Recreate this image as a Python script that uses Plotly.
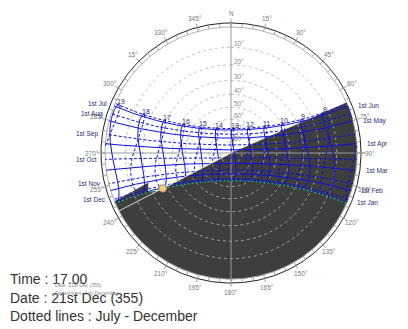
import numpy as np
import plotly.graph_objects as go

# ---------------- data ----------------
LATITUDE = 1.35          # deg N
LONGITUDE = 103.8        # deg E
TZ_MERIDIAN = 120.0      # deg E (UTC+8)

PATH_DAYS = [1, 32, 60, 91, 121, 152, 182, 213, 244, 274, 305, 335]
PATH_LABELS = ["1st Jan", "1st Feb", "1st Mar", "1st Apr", "1st May", "1st Jun",
               "1st Jul", "1st Aug", "1st Sep", "1st Oct", "1st Nov", "1st Dec"]
HOURS = [7, 8, 9, 10, 11, 12, 13, 14, 15, 16, 17, 18, 19]
LABEL_DAY = 172
CURRENT_DAY = 355
CURRENT_TIME = 17.0

AZ_TICKS = [0, 15, 30, 45, 60, 75, 90, 105, 120, 135, 150, 165,
            180, 195, 210, 225, 240, 255, 270, 285, 300, 315, 330, 345]
AZ_TICK_LABELS = ["N", "15°", "30°", "45°", "60°", "75°", "90°", "105°", "120°", "135°",
                  "150°", "165°", "180°", "195°", "210°", "225°", "240°", "255°", "270°",
                  "285°", "300°", "15°", "330°", "345°"]
ALT_RINGS = [10, 20, 30, 40, 50, 60, 70, 80]
ALT_LABELS = ["10°", "20°", "30°", "40°", "50°", "60°", "70°", "80°"]

SHADE_AZ = [66.5, 75.0, 242.0, 244.8, 250.1, 247.4]
SHADE_ALT = [0.0, 88.0, 24.8, 17.9, 20.0, 0.0]

TEXT_LINES = ["Time : 17.00", "Date : 21st Dec (355)", "Dotted lines : July - December"]
SMALL_LINES = ["Date: 21st Dec (355)", "Dotted lines: July-December"]

# ---------------- geometry helpers ----------------
LAT = np.radians(LATITUDE)
PX = 126.0  # pixels per unit radius (horizon)
W, H = 400, 321
CX, CY = 223.0, 145.0


def decl(d):
    b = 2 * np.pi * (np.asarray(d, float) - 1) / 365.0
    return (0.006918 - 0.399912 * np.cos(b) + 0.070257 * np.sin(b)
            - 0.006758 * np.cos(2 * b) + 0.000907 * np.sin(2 * b)
            - 0.002697 * np.cos(3 * b) + 0.00148 * np.sin(3 * b))


def eot(d):
    b = 2 * np.pi * (np.asarray(d, float) - 1) / 365.0
    return 229.18 * (0.000075 + 0.001868 * np.cos(b) - 0.032077 * np.sin(b)
                     - 0.014615 * np.cos(2 * b) - 0.040849 * np.sin(2 * b))


def hour_angle(day, clock):
    solar = clock + (LONGITUDE - TZ_MERIDIAN) / 15.0 + eot(day) / 60.0
    return np.radians(15.0 * (solar - 12.0))


def sky_xy(dec, h):
    e = -np.cos(dec) * np.sin(h)
    n = np.cos(LAT) * np.sin(dec) - np.sin(LAT) * np.cos(dec) * np.cos(h)
    u = np.sin(LAT) * np.sin(dec) + np.cos(LAT) * np.cos(dec) * np.cos(h)
    return e / (1 + u), n / (1 + u), u


def proj(az, alt):
    az = np.radians(np.asarray(az, float))
    r = np.tan(np.radians(90.0 - np.asarray(alt, float)) / 2.0)
    return r * np.sin(az), r * np.cos(az)


def circle(r, a0=0, a1=360, n=361):
    a = np.radians(np.linspace(a0, a1, n))
    return r * np.sin(a), r * np.cos(a)


fig = go.Figure()
BLUE = "#1010d8"
GRAY = "#9a9a9a"


def line(x, y, color, width=1.0, dash="solid"):
    fig.add_trace(go.Scatter(x=list(x), y=list(y), mode="lines",
                             line=dict(color=color, width=width, dash=dash),
                             hoverinfo="skip", showlegend=False))


# ---------------- shading mask ----------------
sx, sy = proj(SHADE_AZ, SHADE_ALT)
ax_, ay_ = circle(1.0, SHADE_AZ[-1], SHADE_AZ[0], 200)
fig.add_trace(go.Scatter(x=list(sx) + list(ax_), y=list(sy) + list(ay_), mode="lines",
                         fill="toself", fillcolor="#3e3e3e",
                         line=dict(color="#3e3e3e", width=0.5),
                         hoverinfo="skip", showlegend=False))

# ---------------- frame ----------------
for alt in ALT_RINGS:
    r = np.tan(np.radians(90 - alt) / 2)
    cx, cy = circle(r)
    line(cx, cy, "#b0b0b0", 0.8, "3px,3px")

cx, cy = circle(1.0)
line(cx, cy, "#a0a0a0", 0.8)
cx, cy = circle(1.032)
line(cx, cy, "#222222", 1.0)

tx, ty = [], []
for a in range(0, 360, 5):
    r1 = 1.062 if a % 15 == 0 else 1.032
    x0, y0 = np.sin(np.radians(a)), np.cos(np.radians(a))
    tx += [x0 * 1.0, x0 * r1, None]
    ty += [y0 * 1.0, y0 * r1, None]
line(tx, ty, "#8a8a8a", 0.8)

line([0, 0], [-1.032, 1.032], GRAY, 1.0)
line([-1.032, 1.062], [0, 0], GRAY, 1.0)

# ---------------- sun paths ----------------
path_ends = []
for i, d in enumerate(PATH_DAYS):
    dec = decl(d)
    h0 = np.arccos(-np.tan(LAT) * np.tan(dec))
    h = np.linspace(-h0, h0, 241)
    x, y, _ = sky_xy(dec, h)
    line(x, y, BLUE, 1.0, "solid" if i < 6 else "3px,2px")
    path_ends.append((x[0], y[0], x[-1], y[-1]))

# hour lines (analemmas)
days = np.arange(1, 366)
for hr in HOURS:
    dec = decl(days)
    h = hour_angle(days, hr)
    x, y, u = sky_xy(dec, h)
    x = np.where(u >= 0, x, np.nan)
    y = np.where(u >= 0, y, np.nan)
    xs = [None if np.isnan(v) else v for v in x]
    ys = [None if np.isnan(v) else v for v in y]
    line(xs[:182], ys[:182], BLUE, 1.0)
    line(xs[181:], ys[181:], BLUE, 1.0, "3px,2px")

# current day path
dec = decl(CURRENT_DAY)
h0 = np.arccos(-np.tan(LAT) * np.tan(dec))
h = np.linspace(-h0, h0, 241)
x, y, _ = sky_xy(dec, h)
line(x, y, "#2fc02f", 1.2, "2px,2px")

# current sun
xs_, ys_, us_ = sky_xy(decl(CURRENT_DAY), hour_angle(CURRENT_DAY, CURRENT_TIME))
rs = np.hypot(xs_, ys_)
line([xs_, xs_ / rs], [ys_, ys_ / rs], "#d8d8d8", 1.0)
line([0, xs_], [0, ys_], "#e4e49a", 1.0)
fig.add_trace(go.Scatter(x=[xs_], y=[ys_], mode="markers",
                         marker=dict(size=7, color="#e6d870",
                                     line=dict(color="#c89c78", width=1.2)),
                         hoverinfo="skip", showlegend=False))

# ---------------- labels ----------------
ann = []
FONT = "Liberation Sans, Arial, sans-serif"
for a, t in zip(AZ_TICKS, AZ_TICK_LABELS):
    ann.append(dict(x=1.105 * np.sin(np.radians(a)), y=1.105 * np.cos(np.radians(a)),
                    text=t, showarrow=False, xanchor="center", yanchor="middle",
                    font=dict(size=6.5, color="#7a7a7a", family=FONT)))
for alt, t in zip(ALT_RINGS, ALT_LABELS):
    r = np.tan(np.radians(90 - alt) / 2)
    ann.append(dict(x=0, y=r, text=t, showarrow=False, xanchor="left", yanchor="bottom",
                    xshift=1, yshift=-2,
                    font=dict(size=6.5, color="#8a8a8a", family=FONT)))
for hr in HOURS:
    x, y, u = sky_xy(decl(LABEL_DAY), hour_angle(LABEL_DAY, hr))
    if u > 0:
        ann.append(dict(x=x, y=y, text=str(hr), showarrow=False, xanchor="center",
                        yanchor="middle", yshift=3, xshift=2,
                        font=dict(size=7, color="#2b2b7a", family=FONT)))
for i, (t, e) in enumerate(zip(PATH_LABELS, path_ends)):
    if i < 6:
        ann.append(dict(x=e[0], y=e[1], text=t, showarrow=False, xanchor="left",
                        yanchor="middle", xshift=8,
                        font=dict(size=6.5, color="#2b2b7a", family=FONT)))
    else:
        ann.append(dict(x=e[2], y=e[3], text=t, showarrow=False, xanchor="right",
                        yanchor="middle", xshift=-6,
                        font=dict(size=6.5, color="#2b2b7a", family=FONT)))

for k, t in enumerate(TEXT_LINES):
    ann.append(dict(xref="paper", yref="paper", x=0, y=1 - (271 + 18.5 * k) / H,
                    text=t, showarrow=False, xanchor="left", yanchor="middle",
                    font=dict(size=14, color="#333333", family=FONT)))
for k, t in enumerate(SMALL_LINES):
    ann.append(dict(xref="paper", yref="paper", x=45 / W, y=1 - (277 + 8 * k) / H,
                    text=t, showarrow=False, xanchor="left", yanchor="middle",
                    font=dict(size=5, color="#888888", family=FONT)))

fig.update_layout(
    width=W, height=H, margin=dict(l=0, r=0, t=0, b=0),
    paper_bgcolor="white", plot_bgcolor="white", showlegend=False,
    xaxis=dict(range=[-CX / PX, (W - CX) / PX], visible=False, fixedrange=True),
    yaxis=dict(range=[-(H - CY) / PX, CY / PX], visible=False, fixedrange=True),
    annotations=ann,
)
fig.write_html("out.html")
